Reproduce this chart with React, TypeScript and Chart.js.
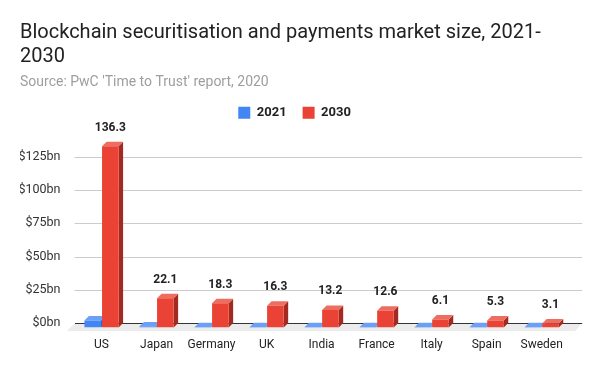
import React, { useEffect, useRef } from 'react';
import { Chart, registerables } from 'chart.js';

Chart.register(...registerables);

const categories = ['US', 'Japan', 'Germany', 'UK', 'India', 'France', 'Italy', 'Spain', 'Sweden'];
const values2021 = [5.2, 0.8, 0.1, 0.1, 0.1, 0.1, 0.1, 0.1, 0.1];
const values2030 = [136.3, 22.1, 18.3, 16.3, 13.2, 12.6, 6.1, 5.3, 3.1];
const seriesNames = ['2021', '2030'];
const titleLines = ['Blockchain securitisation and payments market size, 2021-', '2030'];
const subtitleText = "Source: PwC 'Time to Trust' report, 2020";
const yMax = 149.2;
const yStep = 25;

const FRONT = ['#4285f4', '#ea4335'];
const TOP = ['#6c9ff6', '#ee6d61'];
const SIDE = ['#2e63c0', '#a32a20'];
const DEPTH = 4.5;
const FONT = 'Roboto, "Noto Sans", sans-serif';

const threeD = {
  id: 'threeD',
  beforeDatasetsDraw(chart: any) {
    const { ctx, chartArea: ca, scales } = chart;
    const y = scales.y;
    ctx.save();
    // floor
    ctx.fillStyle = '#ececec';
    ctx.beginPath();
    ctx.moveTo(ca.left - 7, ca.bottom + 3.5);
    ctx.lineTo(ca.right + 6, ca.bottom + 3.5);
    ctx.lineTo(ca.right + 13, ca.bottom - DEPTH);
    ctx.lineTo(ca.left + 1, ca.bottom - DEPTH);
    ctx.closePath();
    ctx.fill();
    // gridlines on back wall
    y.ticks.forEach((t: any) => {
      const py = Math.round(y.getPixelForValue(t.value) - DEPTH) + 0.5;
      ctx.strokeStyle = t.value === 0 ? '#333333' : '#cccccc';
      ctx.lineWidth = 1;
      ctx.beginPath();
      ctx.moveTo(ca.left + (t.value === 0 ? 1 : 0.5), py);
      ctx.lineTo(ca.right + 13, py);
      ctx.stroke();
    });
    // tops and sides of bars
    chart.data.datasets.forEach((_ds: any, di: number) => {
      const meta = chart.getDatasetMeta(di);
      meta.data.forEach((el: any) => {
        const { x, y: top, base, width } = el.getProps(['x', 'y', 'base', 'width'], true);
        const l = x - width / 2;
        const r = x + width / 2;
        ctx.fillStyle = SIDE[di];
        ctx.beginPath();
        ctx.moveTo(r, top);
        ctx.lineTo(r + DEPTH, top - DEPTH);
        ctx.lineTo(r + DEPTH, base - DEPTH);
        ctx.lineTo(r, base);
        ctx.closePath();
        ctx.fill();
        ctx.fillStyle = TOP[di];
        ctx.beginPath();
        ctx.moveTo(l, top);
        ctx.lineTo(r, top);
        ctx.lineTo(r + DEPTH, top - DEPTH);
        ctx.lineTo(l + DEPTH, top - DEPTH);
        ctx.closePath();
        ctx.fill();
      });
    });
    ctx.restore();
  },
  afterDatasetsDraw(chart: any) {
    const { ctx } = chart;
    const meta = chart.getDatasetMeta(1);
    ctx.save();
    ctx.font = `bold 12px ${FONT}`;
    ctx.fillStyle = '#222222';
    ctx.textAlign = 'center';
    ctx.textBaseline = 'middle';
    meta.data.forEach((el: any, i: number) => {
      const { x, y } = el.getProps(['x', 'y'], true);
      ctx.fillText(String(values2030[i]), x, y - DEPTH - 14);
    });
    ctx.restore();
  },
};

export default function App() {
  const ref = useRef<HTMLCanvasElement>(null);
  useEffect(() => {
    if (!ref.current) return;
    const chart = new Chart(ref.current, {
      type: 'bar',
      data: {
        labels: categories,
        datasets: [
          { label: seriesNames[0], data: values2021, backgroundColor: FRONT[0], categoryPercentage: 0.64, barPercentage: 0.94 },
          { label: seriesNames[1], data: values2030, backgroundColor: FRONT[1], categoryPercentage: 0.64, barPercentage: 0.94 },
        ],
      },
      options: {
        responsive: false,
        animation: false,
        devicePixelRatio: 1,
        layout: { padding: { left: 20, right: 30.8, top: 0, bottom: 0 } },
        plugins: {
          title: {
            display: true,
            text: titleLines,
            align: 'start',
            color: '#222222',
            font: { family: FONT, size: 20, weight: 'normal', lineHeight: 1.17 },
            padding: { top: 21.6, bottom: 0 },
          },
          subtitle: {
            display: true,
            text: subtitleText,
            align: 'start',
            color: '#9e9e9e',
            font: { family: FONT, size: 14, weight: 'normal', lineHeight: 1.0 },
            padding: { top: 7.4, bottom: 0.4 },
          },
          legend: {
            display: true,
            position: 'top',
            labels: {
              boxWidth: 12,
              boxHeight: 12,
              padding: 16,
              color: '#222222',
              font: { family: FONT, size: 13, weight: 'bold' },
            },
          },
          tooltip: { enabled: false },
        },
        scales: {
          x: {
            grid: { display: false, drawTicks: false },
            border: { display: false },
            ticks: { padding: 10, color: '#222222', font: { family: FONT, size: 12 }, maxRotation: 0, autoSkip: false },
            afterFit: (s: any) => { s.height = 43.5; },
          },
          y: {
            min: 0,
            max: yMax,
            grid: { display: false, drawTicks: false },
            border: { display: false },
            ticks: {
              stepSize: yStep,
              includeBounds: false,
              padding: 13.5,
              labelOffset: -DEPTH,
              color: '#333333',
              font: { family: FONT, size: 12.5 },
              callback: (v: any) => `$${v}bn`,
            },
            afterFit: (s: any) => { s.width = 54; },
          },
        },
      },
      plugins: [threeD],
    });
    return () => chart.destroy();
  }, []);
  return (
    <div style={{ position: 'absolute', left: 0, top: 0, width: 600, height: 371, background: '#fff' }}>
      <canvas ref={ref} width={600} height={371} style={{ display: 'block' }} />
    </div>
  );
}
